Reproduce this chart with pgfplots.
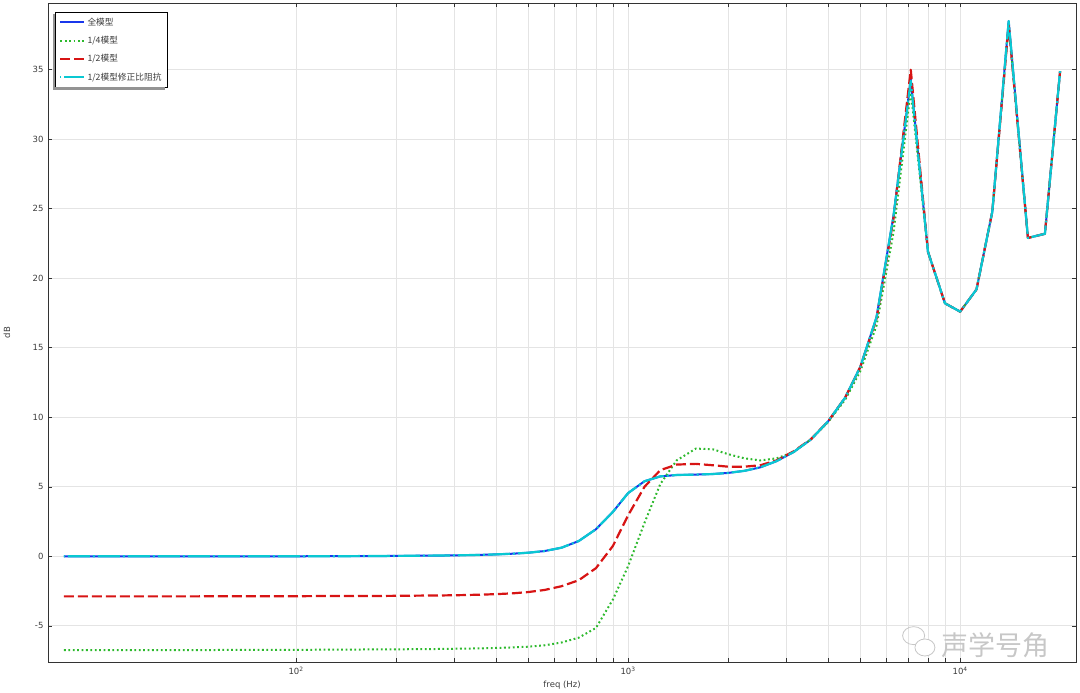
\documentclass[border=0pt]{standalone}
\usepackage{fontspec}
\setmainfont{DejaVu Sans}
\newfontfamily\cjk{Noto Sans CJK SC}
\usepackage{pgfplots}
\usepackage{pgfplotstable}
\pgfplotsset{compat=1.18}
\definecolor{cblue}{RGB}{25,55,235}
\definecolor{cgreen}{RGB}{45,185,45}
\definecolor{cred}{RGB}{215,20,20}
\definecolor{ccyan}{RGB}{10,200,210}
\definecolor{gridc}{RGB}{228,228,228}
\definecolor{tickc}{RGB}{60,60,60}
\pgfplotstableread{
f      full   q      h      hc
20     0.00  -6.75  -2.88  0.00
22.4   0.00  -6.75  -2.88  0.00
25     0.00  -6.75  -2.88  0.00
28     0.00  -6.75  -2.88  0.00
31.5   0.00  -6.75  -2.88  0.00
35.5   0.00  -6.75  -2.88  0.00
40     0.00  -6.74  -2.88  0.00
45     0.00  -6.74  -2.88  0.00
50     0.00  -6.74  -2.88  0.00
56     0.00  -6.74  -2.87  0.00
63     0.00  -6.73  -2.87  0.00
71     0.00  -6.73  -2.87  0.00
80     0.00  -6.73  -2.87  0.00
90     0.00  -6.72  -2.87  0.00
100    0.00  -6.72  -2.87  0.00
112    0.01  -6.72  -2.86  0.01
125    0.01  -6.71  -2.86  0.01
140    0.01  -6.71  -2.86  0.01
160    0.02  -6.70  -2.85  0.02
180    0.02  -6.70  -2.85  0.02
200    0.03  -6.69  -2.84  0.03
224    0.04  -6.68  -2.83  0.04
250    0.05  -6.67  -2.82  0.05
280    0.06  -6.66  -2.81  0.06
315    0.08  -6.64  -2.79  0.08
355    0.10  -6.62  -2.76  0.10
400    0.14  -6.59  -2.72  0.14
450    0.19  -6.55  -2.66  0.19
500    0.26  -6.50  -2.57  0.26
560    0.38  -6.40  -2.42  0.38
630    0.62  -6.20  -2.15  0.62
710    1.10  -5.85  -1.72  1.10
800    1.95  -5.15  -0.85  1.95
900    3.20  -3.10   0.75  3.20
1000   4.55  -0.70   2.95  4.55
1120   5.40   2.40   5.00  5.40
1250   5.75   5.20   6.20  5.75
1400   5.85   6.90   6.60  5.85
1600   5.88   7.75   6.65  5.88
1800   5.92   7.70   6.55  5.92
2000   6.00   7.35   6.45  6.00
2240   6.15   7.05   6.45  6.15
2500   6.40   6.90   6.55  6.40
2800   6.85   7.05   6.90  6.85
3150   7.50   7.50   7.55  7.50
3550   8.40   8.40   8.42  8.40
4000   9.70   9.65   9.70  9.70
4500   11.40  11.25  11.40 11.40
5000   13.60  13.30  13.60 13.60
5600   17.20  16.60  17.10 17.20
6300   24.50  23.30  24.30 24.50
7100   34.30  33.50  35.00 34.20
8000   21.90  21.90  21.90 21.90
9000   18.20  18.20  18.20 18.20
10000  17.60  17.60  17.60 17.60
11200  19.20  19.20  19.20 19.20
12500  24.80  24.80  24.80 24.80
14000  38.50  38.30  38.20 38.50
16000  22.90  22.90  22.90 22.90
18000  23.20  23.20  23.20 23.20
20000  34.90  34.90  34.90 34.90
}\datatable
\begin{document}
\begin{tikzpicture}
\begin{axis}[
  at={(0,0)}, anchor=south west,
  scale only axis, width=1028pt, height=659pt,
  xmode=log, xmin=17.9, xmax=22340,
  ymin=-7.6, ymax=39.8,
  xtick={100,1000,10000},
  xticklabels={10\textsuperscript{2},10\textsuperscript{3},10\textsuperscript{4}},
  ytick={-5,0,5,10,15,20,25,30,35},
  /pgf/number format/assume math mode=true,
  grid=both,
  major grid style={gridc, line width=0.8pt},
  minor grid style={gridc, line width=0.8pt},
  axis line style={black!80, line width=0.8pt},
  tick style={black!80, line width=0.6pt},
  major tick length=4pt, minor tick length=4pt,
  tick align=inside,
  tick label style={font=\fontsize{8.5}{10}\selectfont, text=tickc},
  xticklabel style={yshift=-2pt},
  yticklabel style={xshift=-1pt},
  xlabel={freq (Hz)}, ylabel={dB},
  label style={font=\fontsize{8.5}{10}\selectfont, text=tickc},
  xlabel style={at={(axis description cs:0.5,0)}, yshift=-23pt, anchor=center},
  ylabel style={at={(axis description cs:-0.0399,0.5)}, anchor=center},
  legend cell align=left,
  legend style={name=leg, at={(axis description cs:0,1)}, xshift=7pt, yshift=-9pt, anchor=north west,
    font=\cjk\fontsize{8.7}{10}\selectfont, text=tickc, draw=black, line width=0.6pt,
    fill=white, inner xsep=4pt, inner ysep=3.5pt, row sep=5.5pt},
  legend image code/.code={\draw[#1] (0pt,0pt) -- (24pt,0pt);},
  every axis plot/.append style={line join=round},
]
\addplot[cblue, line width=2pt] table[x=f, y=full] {\datatable};
\addlegendentry{全模型}
\addplot[cgreen, line width=2pt, dash pattern=on 1.8pt off 2.6pt] table[x=f, y=q] {\datatable};
\addlegendentry{1/4模型}
\addplot[cred, line width=2.2pt, dash pattern=on 10pt off 4pt] table[x=f, y=h] {\datatable};
\addlegendentry{1/2模型}
\addplot[ccyan, line width=2.2pt, dash pattern=on 22pt off 3pt on 2pt off 3pt, dash phase=-4pt] table[x=f, y=hc] {\datatable};
\addlegendentry{1/2模型修正比阻抗}
\node[anchor=west, text=black!22, font=\cjk\fontsize{27}{28}\selectfont] at (axis description cs:0.866,0.025) {声学号角};
\draw[black!22, line width=0.8pt] (axis description cs:0.842,0.04) ellipse [x radius=11pt, y radius=9pt];
\draw[black!22, line width=0.8pt, fill=white] (axis description cs:0.853,0.022) ellipse [x radius=10pt, y radius=8.5pt];
\end{axis}
\fill[gray!85] ([xshift=-2.5pt,yshift=-2.5pt]leg.south west) rectangle ([yshift=-2.5pt]leg.north west);
\fill[gray!85] ([xshift=-2.5pt,yshift=-2.5pt]leg.south west) rectangle ([xshift=-2.5pt]leg.south east);
\pgfresetboundingbox
\useasboundingbox (-48pt,-31pt) rectangle (1032pt,662pt);
\end{tikzpicture}
\end{document}
